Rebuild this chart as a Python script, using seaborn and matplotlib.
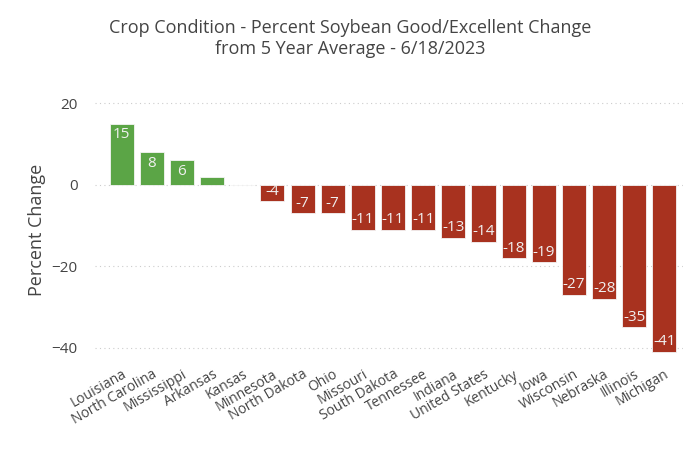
import matplotlib.pyplot as plt
import seaborn as sns
import pandas as pd

states = ['Louisiana', 'North Carolina', 'Mississippi', 'Arkansas', 'Kansas', 'Minnesota',
          'North Dakota', 'Ohio', 'Missouri', 'South Dakota', 'Tennessee', 'Indiana',
          'United States', 'Kentucky', 'Iowa', 'Wisconsin', 'Nebraska', 'Illinois', 'Michigan']
change = [15, 8, 6, 2, 0, -4, -7, -7, -11, -11, -11, -13, -14, -18, -19, -27, -28, -35, -41]

df = pd.DataFrame({'state': states, 'change': change})
colors = ['#5ba546' if v > 0 else '#a8321f' for v in change]

sns.set_style('white')
plt.rcParams['font.family'] = ['Open Sans', 'DejaVu Sans']
fig, ax = plt.subplots(figsize=(7, 4.76), dpi=100)
fig.subplots_adjust(left=0.135, right=0.975, top=0.80, bottom=0.235)

sns.barplot(data=df, x='state', y='change', hue='state', palette=colors, legend=False,
            saturation=1, width=0.8, edgecolor='#f4f4f4', linewidth=0.6, ax=ax, zorder=3)

for i, v in enumerate(change):
    if v >= 3:
        ax.text(i, v - 0.8, str(v), ha='center', va='top', color='#f0f0f0',
                fontsize=11, zorder=4)
    elif v <= -3:
        ax.text(i, v + 0.6, str(v), ha='center', va='bottom', color='#f0f0f0',
                fontsize=11, zorder=4)

ax.set_ylim(-44, 22)
ax.set_xlim(-0.9, 18.6)
ax.set_yticks([-40, -20, 0, 20])
ax.yaxis.grid(True, linestyle=(0, (1, 3)), color='#cccccc', zorder=0)
for s in ax.spines.values():
    s.set_visible(False)
ax.tick_params(axis='y', length=0, labelsize=11, colors='#444444', pad=12)
ax.tick_params(axis='x', length=0, labelsize=10, colors='#444444', pad=2)
plt.setp(ax.get_xticklabels(), rotation=30, ha='right', rotation_mode='anchor')
ax.set_xlabel('')
ax.set_ylabel('Percent Change', fontsize=13, color='#444444')
fig.suptitle('Crop Condition - Percent Soybean Good/Excellent Change\nfrom 5 Year Average - 6/18/2023',
             fontsize=13, color='#444444', y=0.96)

fig.savefig('out.png')
